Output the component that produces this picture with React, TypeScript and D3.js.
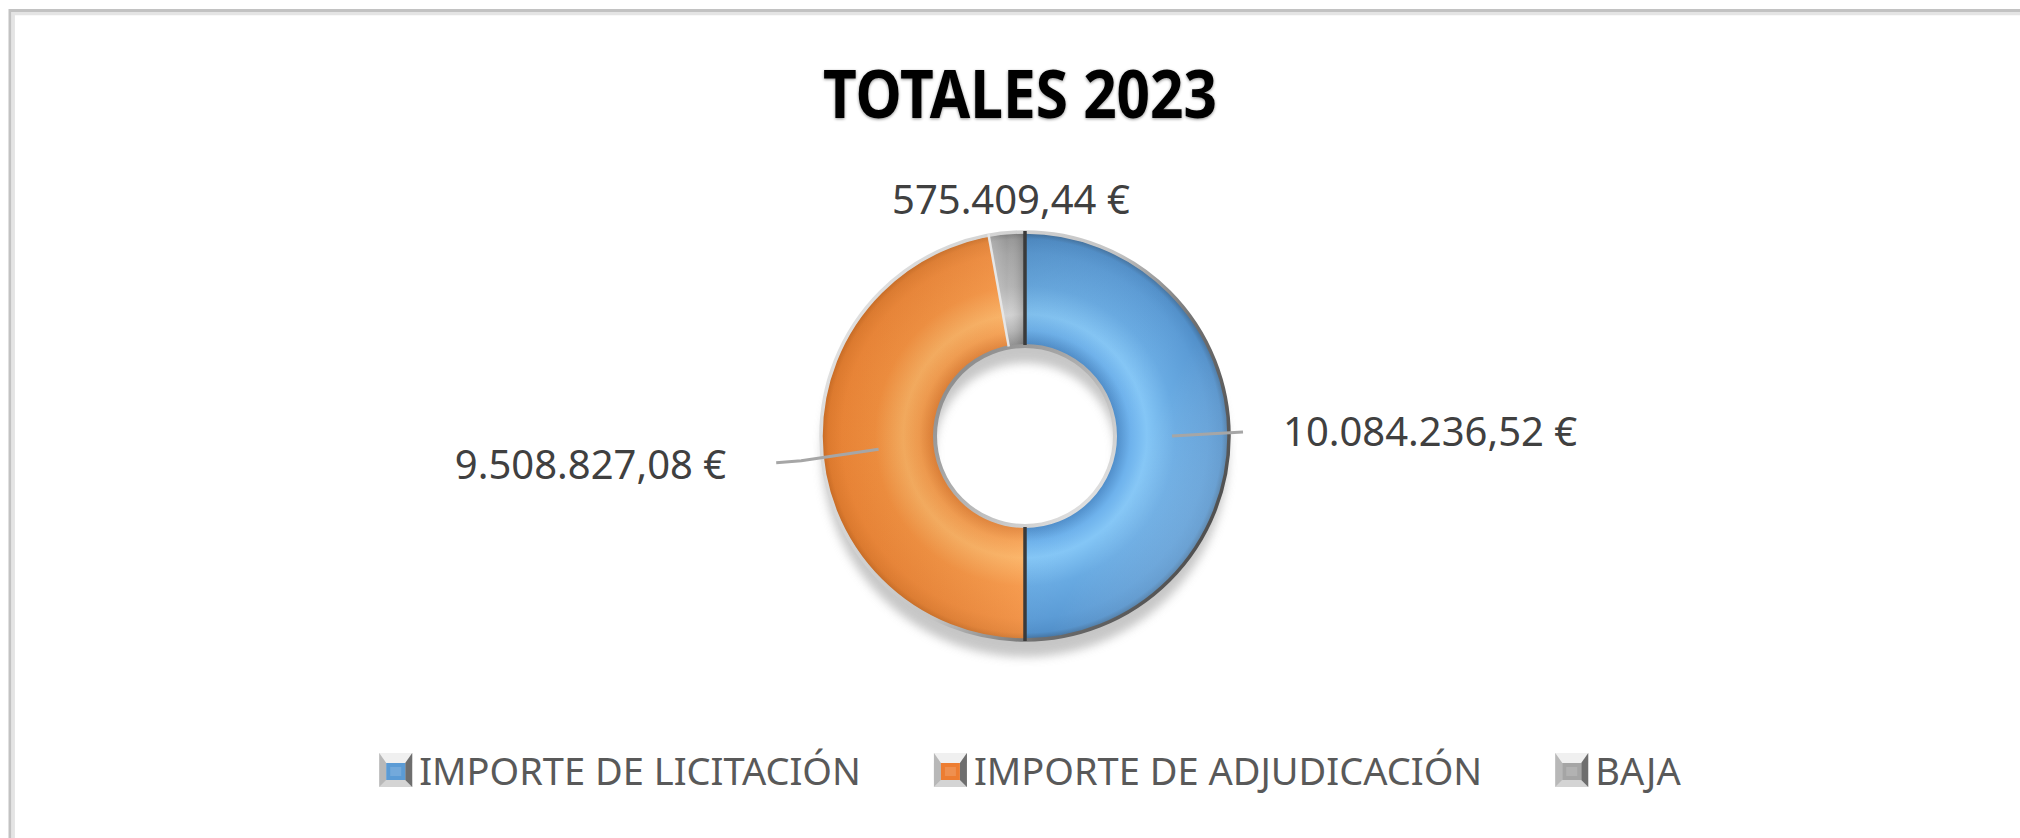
import React, { useEffect, useRef } from "react";
import * as d3 from "d3";

const title = "TOTALES 2023";
const categories = ["IMPORTE DE LICITACIÓN", "IMPORTE DE ADJUDICACIÓN", "BAJA"];
const values = [10084236.52, 9508827.08, 575409.44];
const colors = ["#5b9bd5", "#ed7d31", "#a5a5a5"];

const W = 2020;
const H = 838;

const profiles: [number, string][][] = [
  [[0.448, "#4e8cc8"], [0.52, "#6eb2ec"], [0.6, "#84c6f6"], [0.74, "#68aae2"], [0.9, "#5c9cd6"], [0.97, "#5290ca"], [1, "#44729e"]],
  [[0.448, "#e07c30"], [0.52, "#f69c4c"], [0.6, "#fbae5e"], [0.74, "#f5903e"], [0.9, "#f08838"], [0.97, "#e47e30"], [1, "#cc6e26"]],
  [[0.448, "#8e8e8e"], [0.52, "#b6b6b6"], [0.6, "#d2d2d2"], [0.74, "#b4b4b4"], [0.9, "#a4a4a4"], [0.97, "#989898"], [1, "#7e7e7e"]],
];

const locale = d3.formatLocale({ decimal: ",", thousands: ".", grouping: [3], currency: ["", " €"] });
const fmt = (v: number) => locale.format(",.2f")(v) + "\u00a0€";

export default function App() {
  const ref = useRef<SVGSVGElement>(null);

  useEffect(() => {
    const svg = d3.select(ref.current);
    svg.selectAll("*").remove();
    const defs = svg.append("defs");

    const cx = 1025, cy = 436, rOuter = 203, rInner = 91;

    // chart border
    svg.append("path").attr("d", `M10,${H} V10.5 H${W}`).attr("fill", "none").attr("stroke", "#c2c2c2").attr("stroke-width", 3);
    svg.append("path").attr("d", `M13.3,${H} V13.7 H${W}`).attr("fill", "none").attr("stroke", "#e4e4e4").attr("stroke-width", 3.2);

    // title
    const tf = defs.append("filter").attr("id", "tshadow").attr("x", "-10%").attr("y", "-30%").attr("width", "120%").attr("height", "160%");
    tf.append("feDropShadow").attr("dx", 0).attr("dy", 1).attr("stdDeviation", 1.6).attr("flood-color", "#000").attr("flood-opacity", 0.45);
    svg.append("text")
      .attr("x", 1020).attr("y", 118)
      .attr("text-anchor", "middle")
      .attr("font-family", "'Noto Sans', sans-serif")
      .attr("font-weight", 700)
      .attr("font-size", 66)
      .attr("textLength", 394)
      .attr("lengthAdjust", "spacingAndGlyphs")
      .attr("fill", "#000")
      .attr("filter", "url(#tshadow)")
      .text(title);

    const pie = d3.pie<number>().sort(null).value((d) => d);
    const arcs = pie(values);
    const arc = d3.arc<d3.PieArcDatum<number>>().innerRadius(rInner).outerRadius(rOuter);
    const ring = d3.arc()({ innerRadius: rInner, outerRadius: rOuter, startAngle: 0, endAngle: 2 * Math.PI } as any) as string;

    // gradients (in the translated group's user space, centred at 0,0)
    profiles.forEach((p, i) => {
      const gr = defs.append("radialGradient").attr("id", `rg${i}`).attr("gradientUnits", "userSpaceOnUse")
        .attr("cx", 0).attr("cy", 0).attr("r", rOuter);
      p.forEach(([o, c]) => gr.append("stop").attr("offset", o).attr("stop-color", c));
    });
    const ov0 = defs.append("linearGradient").attr("id", "ov0").attr("x1", 0).attr("y1", 0).attr("x2", 1).attr("y2", 1);
    ov0.append("stop").attr("offset", 0).attr("stop-color", "#000").attr("stop-opacity", 0.06);
    ov0.append("stop").attr("offset", 0.55).attr("stop-color", "#fff").attr("stop-opacity", 0);
    ov0.append("stop").attr("offset", 1).attr("stop-color", "#dff6ff").attr("stop-opacity", 0.3);
    const ov1 = defs.append("linearGradient").attr("id", "ov1").attr("x1", 0).attr("y1", 0.5).attr("x2", 1).attr("y2", 0.5);
    ov1.append("stop").attr("offset", 0).attr("stop-color", "#000").attr("stop-opacity", 0.03);
    ov1.append("stop").attr("offset", 1).attr("stop-color", "#fff3d0").attr("stop-opacity", 0.12);
    const ov2 = defs.append("linearGradient").attr("id", "ov2").attr("x1", 0).attr("y1", 0).attr("x2", 1).attr("y2", 0);
    ov2.append("stop").attr("offset", 0).attr("stop-color", "#fff").attr("stop-opacity", 0.25);
    ov2.append("stop").attr("offset", 0.5).attr("stop-color", "#fff").attr("stop-opacity", 0);
    ov2.append("stop").attr("offset", 1).attr("stop-color", "#000").attr("stop-opacity", 0.2);

    const rim = defs.append("linearGradient").attr("id", "rim").attr("x1", 0).attr("y1", 0.25).attr("x2", 1).attr("y2", 0.75);
    rim.append("stop").attr("offset", 0).attr("stop-color", "#e2e2e2");
    rim.append("stop").attr("offset", 0.5).attr("stop-color", "#c4c4c4");
    rim.append("stop").attr("offset", 0.72).attr("stop-color", "#707070");
    rim.append("stop").attr("offset", 1).attr("stop-color", "#4a4a4a");
    const irim = defs.append("linearGradient").attr("id", "irim").attr("x1", 0).attr("y1", 0).attr("x2", 1).attr("y2", 1);
    irim.append("stop").attr("offset", 0).attr("stop-color", "#808080");
    irim.append("stop").attr("offset", 0.55).attr("stop-color", "#b8b8b8");
    irim.append("stop").attr("offset", 1).attr("stop-color", "#f0f0f0");

    const sf = defs.append("filter").attr("id", "dshadow").attr("x", "-20%").attr("y", "-20%").attr("width", "140%").attr("height", "140%");
    sf.append("feGaussianBlur").attr("stdDeviation", 5);

    const g = svg.append("g").attr("transform", `translate(${cx},${cy})`);

    // drop shadow
    g.append("path").attr("d", ring).attr("transform", "translate(0,18)").attr("fill", "#bdbdbd").attr("opacity", 0.85).attr("filter", "url(#dshadow)");

    // slices
    g.selectAll("path.slice").data(arcs).join("path").attr("class", "slice")
      .attr("d", arc as any).attr("fill", (_d, i) => `url(#rg${i})`);
    g.selectAll("path.ov").data(arcs).join("path").attr("class", "ov")
      .attr("d", arc as any).attr("fill", (_d, i) => `url(#ov${i})`);

    // rims
    g.append("circle").attr("r", rOuter + 1).attr("fill", "none").attr("stroke", "url(#rim)").attr("stroke-width", 3.5);
    g.append("circle").attr("r", rInner - 1).attr("fill", "none").attr("stroke", "url(#irim)").attr("stroke-width", 4);

    // dark slice edges for first series
    const a0 = arcs[0];
    [a0.startAngle, a0.endAngle].forEach((ang) => {
      const s = Math.sin(ang), c = -Math.cos(ang);
      g.append("line")
        .attr("x1", s * rInner).attr("y1", c * rInner)
        .attr("x2", s * (rOuter + 2)).attr("y2", c * (rOuter + 2))
        .attr("stroke", "#3a3a3a").attr("stroke-width", 3.5);
    });
    // gray slice light edge
    const a2 = arcs[2];
    {
      const s = Math.sin(a2.startAngle), c = -Math.cos(a2.startAngle);
      g.append("line")
        .attr("x1", s * rInner).attr("y1", c * rInner)
        .attr("x2", s * (rOuter + 2)).attr("y2", c * (rOuter + 2))
        .attr("stroke", "#e6e6e6").attr("stroke-width", 2.5);
    }

    // data labels
    const labelRadius = [258, 300, 236];
    const labelFont = "'Noto Sans', sans-serif";
    const midR = (rInner + rOuter) / 2;
    arcs.forEach((a, i) => {
      const mid = (a.startAngle + a.endAngle) / 2;
      const s = Math.sin(mid), c = -Math.cos(mid);
      const lx = s * labelRadius[i], ly = c * labelRadius[i];
      const ccx = s * midR, ccy = c * midR;
      if (i === 0) {
        g.append("polyline").attr("points", `${ccx},${ccy} ${lx - 40},${ly - 4}`)
          .attr("fill", "none").attr("stroke", "#a6a6a6").attr("stroke-width", 3);
        g.append("text").attr("x", lx).attr("y", ly + 10).attr("text-anchor", "start")
          .attr("font-family", labelFont).attr("font-size", 40).attr("fill", "#404040").text(fmt(values[i]));
      } else if (i === 1) {
        g.append("polyline").attr("points", `${ccx},${ccy} ${lx + 75},${ly - 2} ${lx + 50},${ly}`)
          .attr("fill", "none").attr("stroke", "#a6a6a6").attr("stroke-width", 3);
        g.append("text").attr("x", lx).attr("y", ly + 16).attr("text-anchor", "end")
          .attr("font-family", labelFont).attr("font-size", 40).attr("fill", "#404040").text(fmt(values[i]));
      } else {
        g.append("text").attr("x", lx + 7).attr("y", ly + 13).attr("text-anchor", "middle")
          .attr("font-family", labelFont).attr("font-size", 40).attr("fill", "#404040").text(fmt(values[i]));
      }
    });

    // legend
    const lg = svg.append("g");
    const iconW = 33, iconH = 34, iconGap = 7, itemGap = 73, baseY = 785, iconTop = 753;
    const items = categories.map((name, i) => {
      const t = lg.append("text").attr("y", baseY).attr("font-family", labelFont).attr("font-size", 38)
        .attr("fill", "#595959").text(name);
      const w = (t.node() as SVGTextElement).getComputedTextLength();
      return { t, w, i };
    });
    const total = items.reduce((acc, it) => acc + iconW + iconGap + it.w, 0) + itemGap * (items.length - 1);
    let x = 1030 - total / 2;
    items.forEach((it) => {
      const ig = lg.append("g").attr("transform", `translate(${x},${iconTop})`);
      ig.append("rect").attr("width", iconW).attr("height", iconH).attr("fill", "#e6e6e6");
      ig.append("polygon").attr("points", `0,0 ${iconW},0 ${iconW - 7},10 7,10`).attr("fill", "#f0f0f0");
      ig.append("polygon").attr("points", `0,${iconH} ${iconW},${iconH} ${iconW - 7},${iconH - 7} 7,${iconH - 7}`).attr("fill", "#d4d4d4");
      ig.append("polygon").attr("points", `0,0 7,10 7,${iconH - 7} 0,${iconH}`).attr("fill", "#b8b8b8");
      ig.append("polygon").attr("points", `${iconW},0 ${iconW - 7},10 ${iconW - 7},${iconH - 7} ${iconW},${iconH}`).attr("fill", "#6e6e6e");
      ig.append("rect").attr("x", 7).attr("y", 10).attr("width", iconW - 14).attr("height", iconH - 17).attr("fill", colors[it.i]);
      ig.append("rect").attr("x", 11).attr("y", 14).attr("width", iconW - 22).attr("height", iconH - 25).attr("fill", "#fff").attr("opacity", 0.15);
      it.t.attr("x", x + iconW + iconGap);
      x += iconW + iconGap + it.w + itemGap;
    });
  }, []);

  return (
    <div style={{ position: "absolute", left: 0, top: 0 }}>
      <svg ref={ref} width={W} height={H} style={{ display: "block", background: "#fff" }} />
    </div>
  );
}
